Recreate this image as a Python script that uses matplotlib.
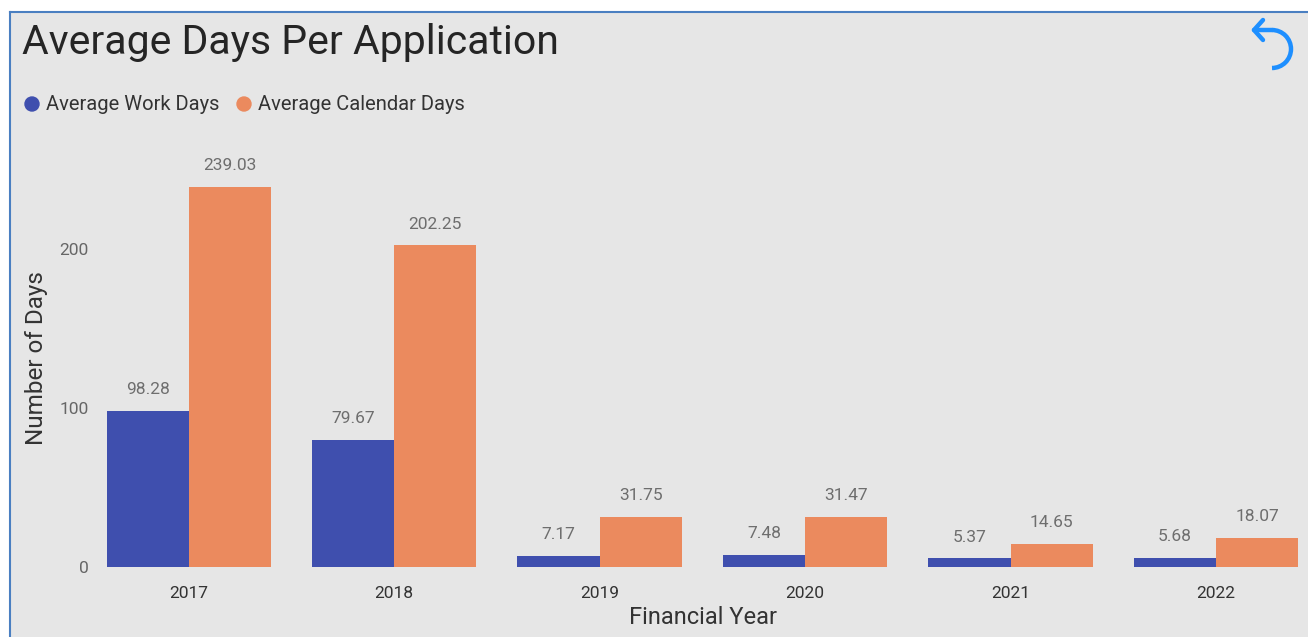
import matplotlib
matplotlib.use("Agg")
import matplotlib.pyplot as plt
import numpy as np
from matplotlib.patches import Arc, Circle

years = ["2017", "2018", "2019", "2020", "2021", "2022"]
work_days = [98.28, 79.67, 7.17, 7.48, 5.37, 5.68]
calendar_days = [239.03, 202.25, 31.75, 31.47, 14.65, 18.07]
series_names = ["Average Work Days", "Average Calendar Days"]
yticks = [0, 100, 200]

BLUE = "#3f4fae"
ORANGE = "#eb8a5e"
BG = "#e6e6e6"
FONT = ["Roboto", "DejaVu Sans"]
plt.rcParams['font.family'] = FONT

W, H = 1308, 637
fig = plt.figure(figsize=(W / 100, H / 100), dpi=100)
fig.patch.set_facecolor("white")

# overlay in pixel coords for background/border/icon
ov = fig.add_axes([0, 0, 1, 1], zorder=0)
ov.set_xlim(0, W)
ov.set_ylim(H, 0)
ov.axis("off")
ov.add_patch(plt.Rectangle((10, 12), W - 10, H - 12, facecolor=BG, edgecolor="none"))
ov.plot([10, W], [12, 12], color="#4a7fc1", lw=1.5)
ov.plot([10, 10], [12, H], color="#4a7fc1", lw=1.5)

# undo icon
ic = "#1e8fff"
ov.plot([1254, 1272], [30, 30], color=ic, lw=3.2, solid_capstyle="round")
ov.add_patch(Arc((1272, 49), 38, 38, theta1=-90, theta2=90, color=ic, lw=3.2))
ov.plot([1263, 1254, 1263], [20, 30, 40], color=ic, lw=3.2, solid_capstyle="round",
        solid_joinstyle="round")

# title & legend
ov.text(22, 42, "Average Days Per Application", fontsize=29.5,
        color="#252525", va="center", ha="left")
ov.add_patch(Circle((32, 104), 7, color=BLUE))
ov.add_patch(Circle((244, 104), 7, color=ORANGE))
ov.text(46, 105, series_names[0], fontsize=14.5, color="#333333", va="center", ha="left")
ov.text(258, 105, series_names[1], fontsize=14.5, color="#333333", va="center", ha="left")
ov.text(37, 358, "Number of Days", fontsize=17.5, color="#333333", rotation=90,
        va="center", ha="center")
ov.text(703, 617, "Financial Year", fontsize=17, color="#333333",
        va="center", ha="center")

# main axes
left_px, right_px = 86, 1308
bot_px, top_px = 567, 150
ax = fig.add_axes([left_px / W, 1 - bot_px / H, (right_px - left_px) / W,
                   (bot_px - top_px) / H], zorder=1)
ax.set_facecolor("none")
x = np.arange(len(years))
bw = 0.4
b1 = ax.bar(x - bw / 2, work_days, bw, color=BLUE)
b2 = ax.bar(x + bw / 2, calendar_days, bw, color=ORANGE)
for bars, vals in ((b1, work_days), (b2, calendar_days)):
    for rect, v in zip(bars, vals):
        ax.annotate(f"{v:.2f}", (rect.get_x() + rect.get_width() / 2, v),
                    xytext=(0, 10), textcoords="offset points", ha="center",
                    va="bottom", fontsize=12.5, color="#6e6e6e")

ax.set_xlim(-0.5, (right_px - 189) / 205.4)
ax.set_ylim(0, (bot_px - top_px) / 1.59)
ax.set_xticks(x)
ax.set_xticklabels(years, fontsize=12.5, color="#333333")
ax.set_yticks(yticks)
ax.set_yticklabels([str(t) for t in yticks], fontsize=12.5, color="#666666")
ax.tick_params(axis="x", length=0, pad=14)
ax.tick_params(axis="y", length=0, pad=-2)
for s in ax.spines.values():
    s.set_visible(False)

fig.savefig("out.png", dpi=100)
